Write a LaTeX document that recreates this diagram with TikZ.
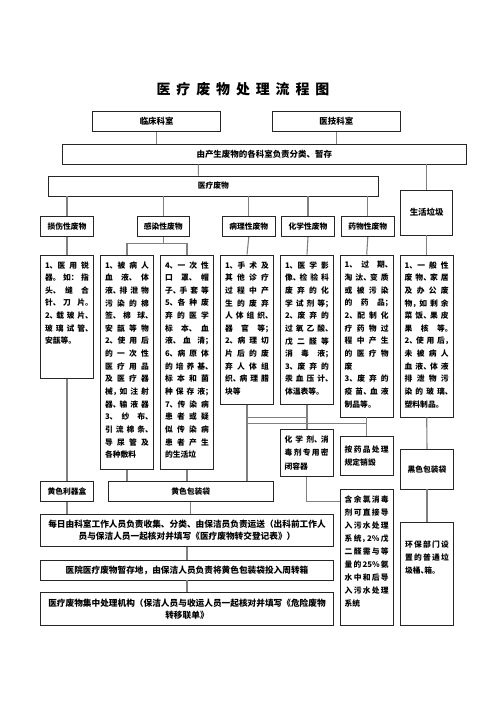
\documentclass[tikz,border=0pt]{standalone}
\usepackage{fontspec}
\usepackage{tikz}
\usetikzlibrary{calc, math}
\newfontfamily\cjk{Noto Sans CJK SC}
\newfontfamily\cjkh{Noto Sans CJK SC}[RawFeature=+halt]
\XeTeXlinebreaklocale "zh"
\XeTeXlinebreakskip=0pt plus 4pt
\hbadness=10000
\vbadness=10000
\newcommand\nl{\linebreak}
\newcommand\tsp{\hspace{5.9bp}}
\newcommand\colw{44bp}
\newcommand\col[2]{\parbox[t][#1][t]{\colw}{#2}}

\begin{document}
\begin{tikzpicture}[x=1bp, y=-1bp,
  box/.style={draw=black!85, line width=0.75bp, fill=white, inner sep=0pt},
  lab/.style={box, font=\cjk\bfseries\fontsize{7.8}{9}\selectfont, minimum height=20bp},
  big/.style={lab, font=\cjk\bfseries\fontsize{8.5}{10}\selectfont},
  txt/.style={box, anchor=north, inner xsep=4.3bp, inner ysep=6.5bp, font=\cjkh\bfseries\fontsize{7.8}{12.7}\selectfont},
  small/.style={txt, anchor=center, font=\cjkh\bfseries\fontsize{7.8}{13.3}\selectfont},
  wide/.style={box, minimum width=292.6bp, align=center, font=\cjk\bfseries\fontsize{8.7}{11.7}\selectfont},
  link/.style={draw=black!50, line width=1.1bp}]

\useasboundingbox (0,0) rectangle (496,702);

\tikzmath{
  \ka = 226.7; \kb = 254.5; \kc = 491.7;
}

\node[font=\cjk\bfseries\fontsize{14}{16}\selectfont] (title) at (243,89)
  {医\tsp 疗\tsp 废\tsp 物\tsp 处\tsp 理\tsp 流\tsp 程\tsp 图};

\node[big, minimum width=128bp] (linchuang) at (156.7,121.7) {临床科室};
\node[big, minimum width=127.3bp] (yiji) at (336.3,121.7) {医技科室};
\node[big, minimum width=403.3bp] (chansheng) at (264.3,154) {由产生废物的各科室负责分类、暂存};
\node[lab, minimum width=330bp] (yiliao) at (213.3,186) {医疗废物};
\node[big, minimum width=52bp, minimum height=45bp] (shenghuo) at (426.7,212.5) {生活垃圾};

% categories
\node[lab, minimum width=52.6bp] (sunshang) at (67,\ka) {损伤性废物};
\node[lab, minimum width=52bp] (ganran) at (163.3,\ka) {感染性废物};
\node[lab, minimum width=52.3bp] (bingli) at (248.8,\ka) {病理性废物};
\node[lab, minimum width=52.6bp] (huaxue) at (308,\ka) {化学性废物};
\node[lab, minimum width=52.3bp] (yaowu) at (367.8,\ka) {药物性废物};

\node[txt] (sunshang2) at (67,\kb) {\col{110.8bp}{1、医用锐\nl 器。如：指\nl 头、缝合\nl 针、刀片。\nl 2、载玻片、\nl 玻璃试管、\nl 安瓿等。}};
\node[txt] (ganranA) at (127,\kb) {\col{201.5bp}{1、被病人\nl 血液、体\nl 液、排泄物\nl 污染的棉\nl 签、棉球、\nl 安瓿等物\nl 2、使用后\nl 的一次性\nl 医疗用品\nl 及医疗器\nl 械，如注射\nl 器、输液器\nl 3、纱布、\nl 引流棉条、\nl 导尿管及\nl 各种敷料}};
\node[txt] (ganranB) at (187,\kb) {\col{201.5bp}{4、一次性\nl 口罩、帽\nl 子、手套等\nl 5、各种废\nl 弃的医学\nl 标本、血\nl 液、血清；\nl 6、病原体\nl 的培养基、\nl 标本和菌\nl 种保存液；\nl 7、传染病\nl 患者或疑\nl 似传染病\nl 患者产生\nl 的生活垃}};
\node[txt] (bingli2) at (247,\kb) {\col{136.5bp}{1、手术及\nl 其他诊疗\nl 过程中产\nl 生的废弃\nl 人体组织、\nl 器官等；\nl 2、病理切\nl 片后的废\nl 弃人体组\nl 织、病理腊\nl 块等}};
\node[txt] (huaxue2) at (307,\kb) {\col{136.5bp}{1、医学影\nl 像、检验科\nl 废弃的化\nl 学试剂等；\nl 2、废弃的\nl 过氧乙酸、\nl 戊二醛等\nl 消毒液；\nl 3、废弃的\nl 汞血压计、\nl 体温表等。}};
\node[txt] (yaowu2) at (366.7,\kb) {\col{149.2bp}{1、过期、\nl 淘汰、变质\nl 或被污染\nl 的药品；\nl 2、配制化\nl 疗药物过\nl 程中产生\nl 的医疗物\nl 废\nl 3、废弃的\nl 疫苗、血液\nl 制品等。}};
\node[txt] (shenghuo2) at (426.7,\kb) {\col{149.2bp}{1、一般性\nl 废物、家居\nl 及办公废\nl 物，如剩余\nl 菜饭、果皮\nl 果核等。\nl 2、使用后，\nl 未被病人\nl 血液、体液\nl 排泄物污\nl 染的玻璃、\nl 塑料制品。}};

% containers
\node[lab, minimum width=52.6bp] (liqi) at (67,\kc) {黄色利器盒};
\node[lab, minimum width=165bp] (huangdai) at (190.8,\kc) {黄色包装袋};
\node[small, minimum height=44.3bp] (rongqi) at (306.7,452.8) {\parbox{\colw}{化学剂、消\nl 毒剂专用密\nl 闭容器}};
\node[small, minimum height=38.3bp] (xiaohui) at (366.7,455.9) {\parbox{\colw}{按药品处理\nl 规定销毁}};
\node[txt, font=\cjkh\bfseries\fontsize{7.8}{13}\selectfont] (yulv) at (366.7,489) {\col{123bp}{含余氯消毒\nl 剂可直接导\nl 入污水处理\nl 系统，2\%戊\nl 二醛需与等\nl 量的25\%氨\nl 水中和后导\nl 入污水处理\nl 系统}};
\node[lab, minimum width=52.6bp, minimum height=39.7bp] (heidai) at (427,469.2) {黑色包装袋};
\node[txt, inner ysep=19bp] (huanbao) at (427,521.7) {\col{65.3bp}{环保部门设\nl 置的普通垃\nl 圾桶、箱。}};

\node[wide, minimum height=32.4bp] (shouji) at (187,530.5) {每日由科室工作人员负责收集、分类、由保洁员负责运送（出科前工作人\\员与保洁人员一起核对并填写《医疗废物转交登记表》）};
\node[wide, minimum height=20bp] (zancun) at (187,570) {医院医疗废物暂存地，由保洁人员负责将黄色包装袋投入周转箱};
\node[wide, minimum height=32.3bp] (chuli) at (187,608.9) {医疗废物集中处理机构（保洁人员与收运人员一起核对并填写《危险废物\\转移联单》};

% links
\draw[link] (linchuang.south) -- (linchuang.south |- chansheng.north);
\draw[link] (yiji.south) -- (yiji.south |- chansheng.north);
\draw[link] ([xshift=-66bp]chansheng.south) -- ([xshift=-15bp]yiliao.north);
\draw[link] (chansheng.south -| shenghuo.north) -- (shenghuo.north);
\foreach \k in {sunshang, ganran, bingli, huaxue, yaowu}
  \draw[link] (yiliao.south -| \k.north) -- (\k.north);
\foreach \k in {sunshang, bingli, huaxue, yaowu, shenghuo}
  \draw[link] (\k.south) -- (\k2.north);

\coordinate (fork) at ($(ganran.south)+(0,6)$);
\draw[link] (ganran.south) -- (fork);
\draw[link] (ganranA.north) |- (fork) -| (ganranB.north);

\draw[link] (sunshang2.south) -- (liqi.north);
\foreach \k in {ganranA, ganranB, bingli2}
  \draw[link] (\k.south) -- (\k.south |- huangdai.north);
\draw[link] (huaxue2.south) -- (huaxue2.south |- rongqi.north);
\coordinate (hj) at ($(huaxue2.south)+(0,12.7)$);
\draw[link] (hj) -- (hj -| bingli2.south);
\draw[link] (yaowu2.south) -- (xiaohui.north);
\coordinate (yj) at ($(yaowu2.south)+(0,6.3)$);
\draw[link] (yj) -- (yj -| bingli2.south);
\draw[link] (rongqi.south) |- ([yshift=-12.7bp]yulv.north west);
\draw[link] (shenghuo2.south) -- (heidai.north);
\draw[link] (heidai.south) -- (huanbao.north);

\draw[link] (liqi.south) -- (liqi.south |- shouji.north);
\draw[link] (huangdai.south) -- (huangdai.south |- shouji.north);
\draw[link] (shouji.south) -- (zancun.north);
\draw[link] (zancun.south) -- (chuli.north);

\end{tikzpicture}
\end{document}
